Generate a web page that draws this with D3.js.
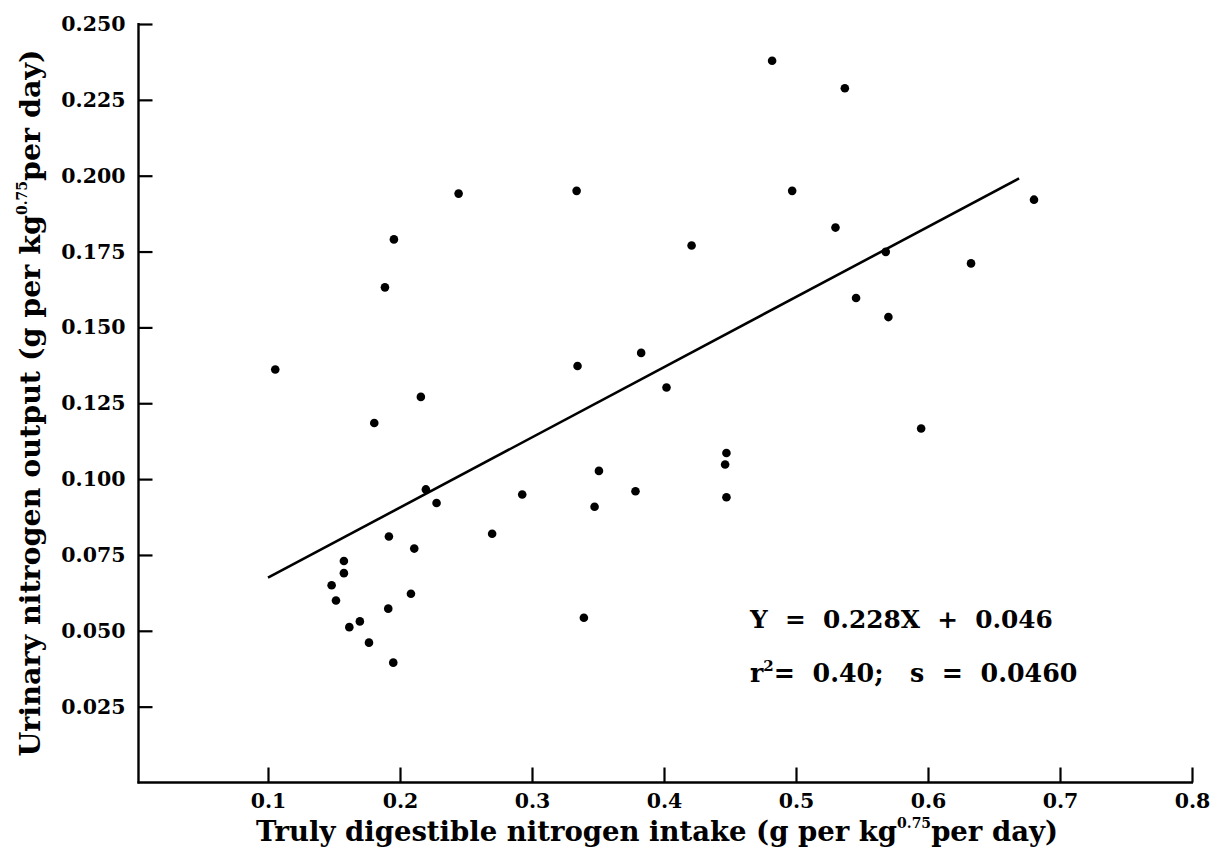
<!DOCTYPE html>
<html>
<head>
<meta charset="utf-8">
<script src="https://cdn.jsdelivr.net/npm/d3@7"></script>
<style>
  html, body { margin: 0; padding: 0; background: #fff; }
  svg { display: block; }
  text { font-family: "DejaVu Serif", "Liberation Serif", serif; font-weight: bold; fill: #000; }
</style>
</head>
<body>
<svg id="chart" width="1221" height="854"></svg>
<script>
// ---- data ----
const intake = [0.1055, 0.1482, 0.1515, 0.1575, 0.1575, 0.1616, 0.1696, 0.1765, 0.1805, 0.1886,
                0.1911, 0.1916, 0.1949, 0.1954, 0.2083, 0.2108, 0.2158, 0.2196, 0.2277, 0.2444,
                0.2698, 0.2926, 0.3338, 0.3345, 0.3393, 0.3474, 0.3507, 0.3784, 0.3827, 0.4019,
                0.4209, 0.4463, 0.4473, 0.4473, 0.4819, 0.4971, 0.5299, 0.5370, 0.5455, 0.5680,
                0.5700, 0.5948, 0.6326, 0.6803];
const output = [0.1361, 0.0650, 0.0600, 0.0730, 0.0690, 0.0512, 0.0531, 0.0461, 0.1185, 0.1632,
                0.0573, 0.0811, 0.0395, 0.1790, 0.0622, 0.0771, 0.1271, 0.0966, 0.0921, 0.1941,
                0.0820, 0.0949, 0.1950, 0.1373, 0.0543, 0.0909, 0.1027, 0.0960, 0.1416, 0.1302,
                0.1770, 0.1048, 0.1086, 0.0940, 0.2379, 0.1950, 0.1829, 0.2288, 0.1597, 0.1749,
                0.1534, 0.1167, 0.1711, 0.1921];
// fitted line as drawn in the figure (end points)
const fitX = [0.100, 0.669];
const fitY = [0.0675, 0.1991];
const xTicks = [0.1, 0.2, 0.3, 0.4, 0.5, 0.6, 0.7, 0.8];
const yTicks = [0.025, 0.050, 0.075, 0.100, 0.125, 0.150, 0.175, 0.200, 0.225, 0.250];
const eqLine1 = "Y  =  0.228X  +  0.046";
const eqLine2 = ["r", "2", "=  0.40;   s  =  0.0460"];

// ---- layout ----
const svg = d3.select("#chart");
const x = d3.scaleLinear().domain([0, 0.8]).range([136, 1192]);
const y = d3.scaleLinear().domain([0, 0.25]).range([782.5, 24]);
const yAxisX = 138.5;
const xAxisY = y(0);

// axes
const gx = svg.append("g").attr("transform", `translate(0,${xAxisY})`)
  .call(d3.axisBottom(x).tickValues(xTicks).tickFormat(d3.format(".1f"))
        .tickSizeInner(-15).tickSizeOuter(0).tickPadding(11));
gx.select(".domain").remove();
gx.selectAll(".tick line").attr("stroke", "#000").attr("stroke-width", 2.2);
gx.selectAll(".tick text").style("font-size", "20.5px").attr("fill", "#000");

const gy = svg.append("g").attr("transform", `translate(${yAxisX},0)`)
  .call(d3.axisLeft(y).tickValues(yTicks).tickFormat(d3.format(".3f"))
        .tickSizeInner(-14).tickSizeOuter(0).tickPadding(13));
gy.select(".domain").remove();
gy.selectAll(".tick line").attr("stroke", "#000").attr("stroke-width", 2.2);
gy.selectAll(".tick text").style("font-size", "20.5px").attr("fill", "#000");

// axis lines
svg.append("line").attr("x1", yAxisX).attr("x2", yAxisX).attr("y1", y(0.25) - 1).attr("y2", xAxisY + 1)
  .attr("stroke", "#000").attr("stroke-width", 2.4);
svg.append("line").attr("x1", yAxisX - 1).attr("x2", x(0.8) + 1).attr("y1", xAxisY).attr("y2", xAxisY)
  .attr("stroke", "#000").attr("stroke-width", 2.4);

// regression line
svg.append("line")
  .attr("x1", x(fitX[0])).attr("y1", y(fitY[0]))
  .attr("x2", x(fitX[1])).attr("y2", y(fitY[1]))
  .attr("stroke", "#000").attr("stroke-width", 2.6);

// points
svg.append("g").selectAll("circle")
  .data(intake.map((d, i) => [d, output[i]]))
  .join("circle")
  .attr("cx", d => x(d[0])).attr("cy", d => y(d[1])).attr("r", 4.3)
  .attr("fill", "#000");

// axis titles
const xt = svg.append("text").attr("x", 657).attr("y", 841).attr("text-anchor", "middle")
  .style("font-size", "27.5px");
xt.append("tspan").text("Truly digestible nitrogen intake (g per kg");
xt.append("tspan").attr("dy", -13).style("font-size", "14px").text("0.75");
xt.append("tspan").attr("dy", 13).text("per day)");

const yt = svg.append("text").attr("transform", "translate(40,403) rotate(-90)")
  .attr("text-anchor", "middle").style("font-size", "28.5px");
yt.append("tspan").text("Urinary nitrogen output (g per kg");
yt.append("tspan").attr("dy", -13).style("font-size", "14px").text("0.75");
yt.append("tspan").attr("dy", 13).text("per day)");

// equation
svg.append("text").attr("x", 750).attr("y", 628).style("font-size", "24.8px")
  .style("white-space", "pre").text(eqLine1);
const e2 = svg.append("text").attr("x", 750).attr("y", 682).style("font-size", "25.3px")
  .style("white-space", "pre");
e2.append("tspan").text(eqLine2[0]);
e2.append("tspan").attr("dy", -11).style("font-size", "15px").text(eqLine2[1]);
e2.append("tspan").attr("dy", 11).text(eqLine2[2]);
</script>
</body>
</html>
